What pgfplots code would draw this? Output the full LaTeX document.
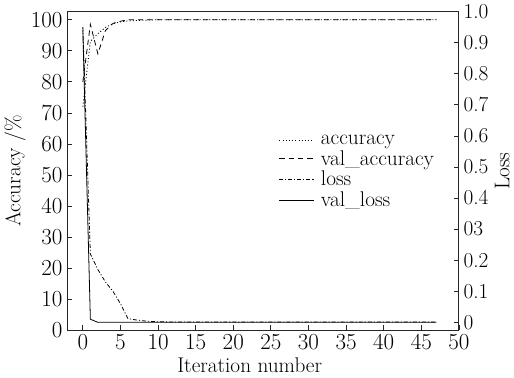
\documentclass[border=0pt]{standalone}
\usepackage{pgfplots}
\pgfplotsset{compat=1.18}
\begin{document}
\begin{tikzpicture}
\pgfplotsset{
  every axis/.append style={
    width=295pt, height=240pt, scale only axis,
    xmin=-2.1, xmax=50,
    font=\fontsize{16}{19}\selectfont,
    tick align=inside,
    major tick length=4pt,
    tick style={black!85, line width=0.6pt},
    axis line style={black!85, line width=0.8pt},
    every axis plot/.append style={black, line width=0.6pt},
  }
}
\begin{axis}[
  ymin=0, ymax=102.6,
  xtick={0,5,...,50}, xtick pos=bottom,
  ytick={0,10,...,100}, ytick pos=left,
  xlabel={Iteration number},
  ylabel={Accuracy /\%},
  xlabel style={yshift=1pt, xshift=-10pt},
  ylabel style={yshift=-3pt},
]
\addplot[dash pattern=on 0.8pt off 1.6pt] coordinates {
(0,72) (1,93) (2,95.5) (3,97.5) (4,98.7) (5,99.3) (6,99.6) (8,99.8) (10,100) (15,100) (20,100) (25,100) (30,100) (35,100) (40,100) (45,100) (47,100)};
\addplot[dash pattern=on 4pt off 3pt] coordinates {
(0,80) (1,98.5) (2,89) (3,96.5) (4,98.8) (5,99.5) (6,100) (10,100) (15,100) (20,100) (25,100) (30,100) (35,100) (40,100) (45,100) (47,100)};
\end{axis}
\begin{axis}[
  axis x line=none,
  axis y line*=right,
  ymin=-0.026, ymax=1.0,
  ytick={0,0.1,0.2,0.3,0.4,0.5,0.6,0.7,0.8,0.9,1.0},
  yticklabels={0,0.1,0.2,03,0.4,0.5,0.6,0.7,0.8,0.9,1.0},
  ylabel={Loss},
  ylabel style={yshift=2pt},
  legend style={at={(0.53,0.63)}, anchor=north west, draw=none, fill=none,
    font=\fontsize{16}{19}\selectfont, row sep=-1pt,
    legend image code/.code={\draw[#1] (0pt,0pt) -- (26pt,0pt); \path (29pt,0pt);}},
  legend cell align=left,
]
\addlegendimage{black, line width=0.6pt, dash pattern=on 0.8pt off 1.6pt}
\addlegendentry{accuracy}
\addlegendimage{black, line width=0.6pt, dash pattern=on 4pt off 3pt}
\addlegendentry{val\_accuracy}
\addplot[dash pattern=on 3pt off 1.5pt on 0.8pt off 1.5pt] coordinates {
(0,0.95) (1,0.22) (2,0.17) (3,0.13) (4,0.10) (5,0.06) (6,0.012) (7,0.008) (8,0.005) (9,0.003) (10,0.002) (12,0.001) (15,0.001) (20,0.001) (30,0.001) (40,0.001) (47,0.001)};
\addlegendentry{loss}
\addplot[solid] coordinates {
(0,0.94) (1,0.01) (2,0.0) (5,0.0) (10,0.0) (15,0.0) (20,0.0) (25,0.0) (30,0.0) (35,0.0) (40,0.0) (45,0.0) (47,0.0)};
\addlegendentry{val\_loss}
\end{axis}
\end{tikzpicture}
\end{document}
